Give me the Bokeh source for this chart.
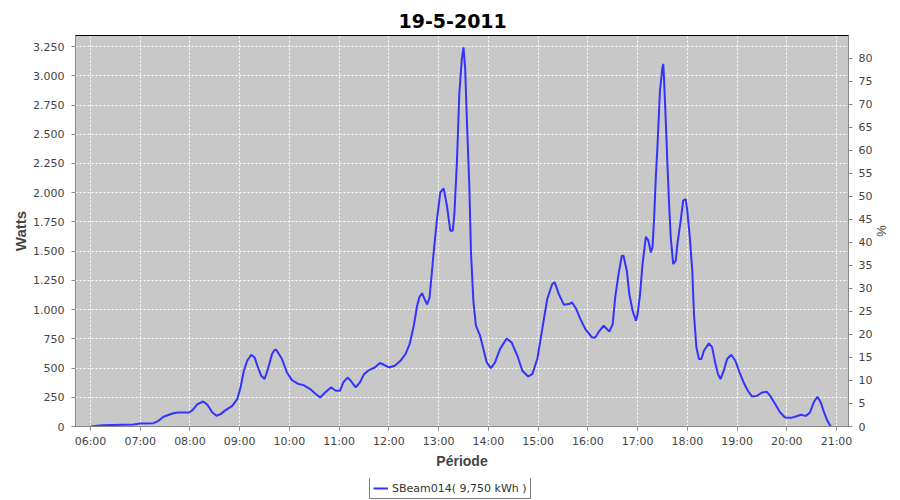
from bokeh.plotting import figure
from bokeh.layouts import column
from bokeh.models import Range1d, LinearAxis, FixedTicker, Legend, LegendItem
from bokeh.embed import file_html
from bokeh.resources import INLINE

title_text = "19-5-2011"
legend_label = "SBeam014( 9,750 kWh )"

times = [
    "06:00", "06:14", "06:52", "07:00", "07:16", "07:22", "07:28", "07:39", "07:45", "07:59",
    "08:03", "08:09", "08:16", "08:21", "08:27", "08:32", "08:37", "08:43", "08:51", "08:57",
    "09:01", "09:05", "09:09", "09:14", "09:18", "09:22", "09:26", "09:30", "09:34", "09:39",
    "09:42", "09:44", "09:51", "09:57", "10:03", "10:11", "10:17", "10:25", "10:31", "10:37",
    "10:43", "10:50", "10:56", "11:01", "11:05", "11:10", "11:14", "11:20", "11:25", "11:30",
    "11:36", "11:43", "11:49", "11:54", "12:00", "12:07", "12:14", "12:20", "12:25", "12:30",
    "12:34", "12:37", "12:40", "12:43", "12:46", "12:49", "12:54", "12:58", "13:02", "13:06",
    "13:10", "13:14", "13:17", "13:19", "13:22", "13:25", "13:28", "13:30", "13:32", "13:34",
    "13:37", "13:39", "13:42", "13:45", "13:50", "13:54", "13:58", "14:03", "14:08", "14:14",
    "14:22", "14:28", "14:35", "14:41", "14:48", "14:53", "14:59", "15:05", "15:11", "15:17",
    "15:20", "15:25", "15:31", "15:37", "15:41", "15:46", "15:51", "15:57", "16:05", "16:09",
    "16:14", "16:19", "16:23", "16:26", "16:30", "16:33", "16:37", "16:41", "16:43", "16:47",
    "16:50", "16:54", "16:58", "17:00", "17:03", "17:06", "17:10", "17:13", "17:16", "17:18",
    "17:20", "17:22", "17:24", "17:27", "17:30", "17:31", "17:32", "17:34", "17:36", "17:38",
    "17:40", "17:43", "17:46", "17:48", "17:52", "17:55", "17:58", "18:00", "18:03", "18:06",
    "18:08", "18:11", "18:14", "18:17", "18:20", "18:26", "18:30", "18:34", "18:37", "18:40",
    "18:44", "18:48", "18:53", "18:58", "19:03", "19:08", "19:13", "19:18", "19:24", "19:30",
    "19:36", "19:40", "19:46", "19:52", "19:58", "20:05", "20:11", "20:17", "20:23", "20:28",
    "20:33", "20:37", "20:41", "20:45", "20:49", "20:53",
]
watts = [
    0, 10, 17, 26, 28, 49, 83, 111, 120, 120,
    140, 192, 214, 186, 120, 92, 106, 140, 177, 234,
    334, 477, 562, 614, 591, 505, 434, 406, 491, 620,
    654, 657, 577, 462, 397, 363, 354, 320, 283, 248,
    291, 334, 306, 306, 377, 419, 391, 334, 377, 448,
    483, 505, 543, 528, 505, 520, 562, 620, 705, 862,
    1033, 1110, 1140, 1091, 1045, 1100, 1490, 1775, 2003, 2037,
    1889, 1675, 1675, 1820, 2255, 2859, 3145, 3244, 3059, 2631,
    2060, 1490, 1061, 862, 776, 662, 548, 500, 548, 662,
    753, 719, 605, 477, 428, 448, 577, 834, 1091, 1219,
    1233, 1133, 1042, 1047, 1061, 1005, 919, 834, 762, 762,
    819, 862, 834, 813, 876, 1104, 1304, 1461, 1461, 1333,
    1133, 990, 905, 962, 1133, 1390, 1624, 1590, 1489, 1532,
    1789, 2131, 2400, 2874, 3073, 3102, 2959, 2617, 2246, 1904,
    1618, 1390, 1418, 1561, 1761, 1932, 1946, 1846, 1618, 1333,
    962, 676, 577, 577, 648, 711, 676, 534, 448, 406,
    477, 577, 614, 562, 462, 377, 306, 257, 262, 291,
    297, 262, 192, 120, 77, 74, 86, 100, 91, 120,
    214, 254, 206, 120, 49, 0,
]

watt_ticks = [0, 250, 500, 750, 1000, 1250, 1500, 1750, 2000, 2250, 2500, 2750, 3000, 3250]
watt_labels = ["0", "250", "500", "750", "1.000", "1.250", "1.500", "1.750", "2.000",
               "2.250", "2.500", "2.750", "3.000", "3.250"]
pct_ticks = [0, 5, 10, 15, 20, 25, 30, 35, 40, 45, 50, 55, 60, 65, 70, 75, 80]
hour_ticks = [6, 7, 8, 9, 10, 11, 12, 13, 14, 15, 16, 17, 18, 19, 20, 21]
hour_labels = ["06:00", "07:00", "08:00", "09:00", "10:00", "11:00", "12:00", "13:00",
               "14:00", "15:00", "16:00", "17:00", "18:00", "19:00", "20:00", "21:00"]

x_hours = [int(t[:2]) + int(t[3:]) / 60.0 for t in times]

Y_MAX = 3345
PCT_MAX = 84.9
LINE_COLOR = "#3333ff"

p = figure(width=900, height=478,
           x_range=Range1d(5.698, 21.241), y_range=Range1d(0, Y_MAX),
           output_backend="svg", toolbar_location=None,
           min_border_left=75, min_border_right=52, min_border_top=35, min_border_bottom=52,
           title=title_text)

p.title.text_font = "DejaVu Sans"
p.title.text_font_style = "bold"
p.title.text_font_size = "19px"
p.title.text_color = "black"
p.title.align = "left"
p.title.offset = 323
p.title.standoff = 16

p.background_fill_color = "#c8c8c8"
p.border_fill_color = "white"
p.outline_line_color = "black"
p.outline_line_width = 1

for g in (p.xgrid, p.ygrid):
    g.grid_line_color = "white"
    g.grid_line_dash = "2 2"
    g.grid_line_width = 1

p.extra_y_ranges = {"pct": Range1d(0, PCT_MAX)}
right_axis = LinearAxis(y_range_name="pct", ticker=FixedTicker(ticks=pct_ticks), axis_label="%")
p.add_layout(right_axis, "right")

p.xaxis.ticker = FixedTicker(ticks=hour_ticks)
p.xaxis.major_label_overrides = dict(zip(hour_ticks, hour_labels))
p.xaxis.axis_label = "Période"
p.yaxis[0].ticker = FixedTicker(ticks=watt_ticks)
p.yaxis[0].major_label_overrides = dict(zip(watt_ticks, watt_labels))
p.yaxis[0].axis_label = "Watts"

for ax in [p.xaxis[0], p.yaxis[0], right_axis]:
    ax.axis_line_color = "#888888"
    ax.major_tick_line_color = "#888888"
    ax.major_tick_out = 4
    ax.major_tick_in = 0
    ax.minor_tick_line_color = None
    ax.major_label_text_font = "DejaVu Sans"
    ax.major_label_text_font_size = "11px"
    ax.major_label_text_color = "#444444"
    ax.axis_label_text_font = "Liberation Sans"
    ax.axis_label_text_font_style = "bold"
    ax.axis_label_text_font_size = "15px"
    ax.axis_label_text_color = "#444444"

p.xaxis[0].major_label_standoff = 4
p.xaxis[0].axis_label_standoff = 2
p.xaxis[0].axis_label_text_font_size = "14px"
p.yaxis[0].major_label_standoff = 7
p.yaxis[0].axis_label_standoff = 1
right_axis.major_label_standoff = 6
right_axis.axis_label_standoff = -1
right_axis.axis_label_text_font_style = "normal"
right_axis.axis_label_text_font_size = "13px"

r = p.line(x_hours, watts, line_width=2, line_color=LINE_COLOR)

# legend strip below the chart (its frame is aligned with the main frame)
lg = figure(width=900, height=22, x_range=Range1d(0, 1), y_range=Range1d(0, 1),
            output_backend="svg", toolbar_location=None,
            x_axis_location=None, y_axis_location=None, min_border=0)
lg.outline_line_color = None
lg.background_fill_color = "white"
lg.border_fill_color = "white"
lg.xgrid.visible = False
lg.ygrid.visible = False
r2 = lg.line([-5, -4], [-5, -4], line_width=2, line_color=LINE_COLOR)

legend = Legend(items=[LegendItem(label=legend_label, renderers=[r2])], location=(294, 1))
legend.border_line_color = "black"
legend.border_line_width = 1
legend.background_fill_color = "white"
legend.background_fill_alpha = 1
legend.padding = 3
legend.margin = 0
legend.spacing = 0
legend.glyph_width = 15
legend.glyph_height = 14
legend.label_height = 14
legend.label_standoff = 4
legend.label_text_font = "DejaVu Sans"
legend.label_text_font_size = "11px"
legend.label_text_color = "#333333"
lg.add_layout(legend)

layout = column(p, lg, spacing=0)
open("out.html", "w").write(file_html(layout, INLINE))
